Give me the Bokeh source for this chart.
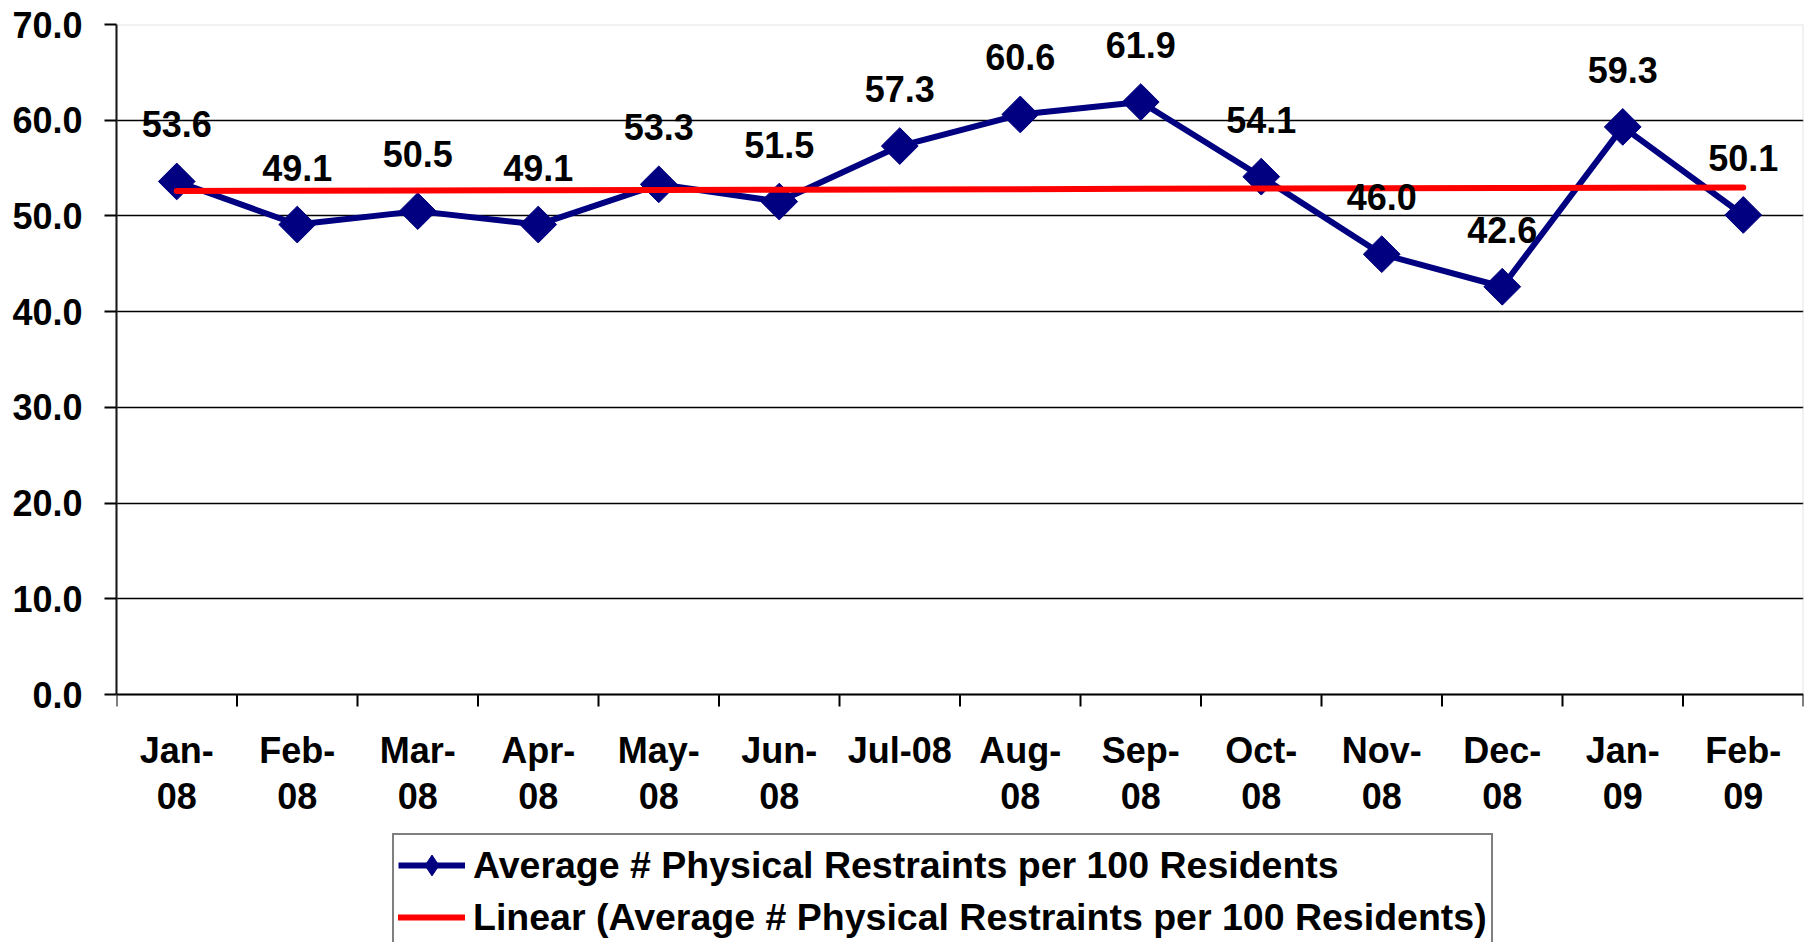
import numpy as np
from bokeh.plotting import figure
from bokeh.core.properties import value
from bokeh.models import (Range1d, FixedTicker, ColumnDataSource, LabelSet, Span, BoxAnnotation,
                          Legend, LegendItem, PrintfTickFormatter)
from bokeh.embed import file_html
from bokeh.resources import INLINE

# ---- data ----
months = ["Jan-\n08", "Feb-\n08", "Mar-\n08", "Apr-\n08", "May-\n08", "Jun-\n08", "Jul-08",
          "Aug-\n08", "Sep-\n08", "Oct-\n08", "Nov-\n08", "Dec-\n08", "Jan-\n09", "Feb-\n09"]
values = [53.6, 49.1, 50.5, 49.1, 53.3, 51.5, 57.3, 60.6, 61.9, 54.1, 46.0, 42.6, 59.3, 50.1]
y_ticks = [0, 10, 20, 30, 40, 50, 60, 70]
grid_ticks = [10, 20, 30, 40, 50, 60]
series_label = "Average # Physical Restraints per 100 Residents"
trend_label = "Linear (Average # Physical Restraints per 100 Residents)"

n = len(values)
xs = list(range(n))
slope, intercept = np.polyfit(xs, values, 1)
trend = [intercept + slope * x for x in xs]

FONT = "Liberation Sans"
NAVY = "#000080"

# layout (pixels)
PLOT_H = 670          # height of the 0..70 plot area
FRAME_H = 918         # frame also holds the category labels and legend below the plot area
Y_MAX = y_ticks[-1]
y_min = -(FRAME_H - PLOT_H) / PLOT_H * Y_MAX

src = ColumnDataSource(dict(x=xs, y=values, label=["%.1f" % v for v in values]))
tsrc = ColumnDataSource(dict(x=xs, y=trend))
csrc = ColumnDataSource(dict(x=xs, y=[0] * n, label=months))
bsrc = ColumnDataSource(dict(x=[i - 0.5 for i in range(n + 1)], y=[0] * (n + 1)))

p = figure(frame_width=1687, frame_height=FRAME_H,
           x_range=Range1d(-0.5, n - 0.5), y_range=Range1d(y_min, Y_MAX),
           output_backend="svg", toolbar_location=None, x_axis_location=None,
           min_border_left=116, min_border_right=8, min_border_top=24, min_border_bottom=0,
           background_fill_color="white", border_fill_color="white",
           outline_line_color=None)

# y axis
ya = p.yaxis[0]
ya.bounds = (0, Y_MAX)
ya.ticker = FixedTicker(ticks=y_ticks)
ya.formatter = PrintfTickFormatter(format="%.1f")
ya.major_tick_out = 12
ya.major_tick_in = 0
ya.major_tick_line_color = "black"
ya.major_tick_line_width = 2
ya.minor_tick_out = 0
ya.minor_tick_in = 0
ya.minor_tick_line_color = None
ya.axis_line_color = "black"
ya.axis_line_width = 2
ya.major_label_standoff = 22
ya.major_label_text_font = FONT
ya.major_label_text_font_style = "bold"
ya.major_label_text_font_size = "36px"
ya.major_label_text_color = "black"

p.xgrid.visible = False
p.ygrid.ticker = FixedTicker(ticks=grid_ticks)
p.ygrid.grid_line_color = "black"
p.ygrid.grid_line_width = 1.5

# plot-area border (grey top/right) and black category axis line
p.add_layout(BoxAnnotation(left=-0.5, right=n - 0.5, bottom=0, top=Y_MAX,
                           fill_alpha=0, line_color="#a0a0a0", line_width=2))
p.add_layout(Span(location=0, dimension="width", line_color="black", line_width=2))

# category tick marks (between categories) and labels
p.ray("x", "y", source=bsrc, length=12, length_units="screen", angle=-np.pi / 2,
      line_color="black", line_width=2)
p.text("x", "y", text="label", source=csrc, text_align="center", text_baseline="top",
       y_offset=35, text_font=value(FONT), text_font_style="bold", text_font_size="36px",
       text_color="black", text_line_height=1.14)

line_r = p.line("x", "y", source=src, line_color=NAVY, line_width=6)
mark_r = p.scatter("x", "y", source=src, marker="square", angle=np.pi / 4, size=26,
                   fill_color=NAVY, line_color=NAVY)
trend_r = p.line("x", "y", source=tsrc, line_color="#ff0000", line_width=6, line_cap="round")
# legend-only diamond marker (hidden in the plot)
leg_mark = p.scatter("x", "y", source=src, marker="diamond", size=26,
                     fill_color=NAVY, line_color=NAVY, visible=False)

labels = LabelSet(x="x", y="y", text="label", source=src, text_align="center",
                  text_baseline="alphabetic", y_offset=44, text_font=value(FONT),
                  text_font_style="bold", text_font_size="36px", text_color="black")
p.add_layout(labels)

legend = Legend(items=[LegendItem(label=series_label, renderers=[line_r, leg_mark]),
                       LegendItem(label=trend_label, renderers=[trend_r])],
                location=(276, -7), orientation="vertical",
                label_text_font=FONT, label_text_font_style="bold", label_text_font_size="37.5px",
                label_text_color="black", glyph_width=67, glyph_height=52, label_height=40,
                label_standoff=8, spacing=0, padding=4, margin=0,
                border_line_color="black", border_line_width=2,
                background_fill_color="white", background_fill_alpha=1.0)
p.add_layout(legend)

open("out.html", "w").write(file_html(p, INLINE))
